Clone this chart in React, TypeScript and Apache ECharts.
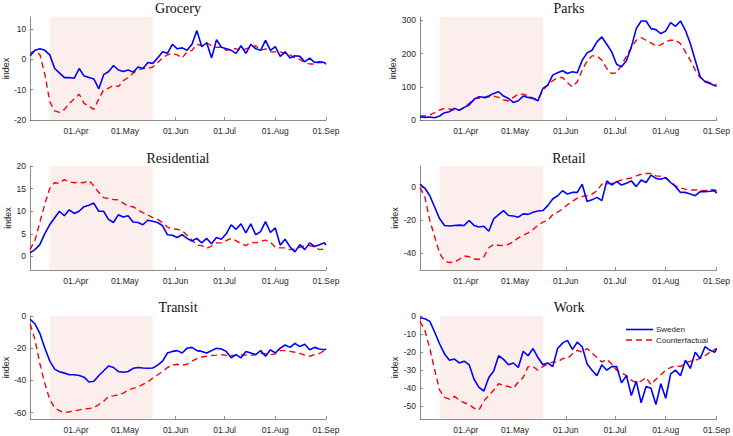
import React, { useEffect, useRef } from "react";
import * as echarts from "echarts";

// Day offsets from 04.Mar.2020
const days = [0, 3, 6, 9, 12, 15, 18, 21, 24, 27, 30, 33, 36, 39, 42, 45, 48, 51, 54, 57, 60, 63, 66, 69, 72, 75, 78, 81, 84, 87, 90, 93, 96, 99, 102, 105, 108, 111, 114, 117, 120, 123, 126, 129, 132, 135, 138, 141, 144, 147, 150, 153, 156, 159, 162, 165, 168, 171, 174, 177, 180, 181];

const monthTicks = [28, 58, 89, 119, 150, 181];
const monthLabels = ["01.Apr", "01.May", "01.Jun", "01.Jul", "01.Aug", "01.Sep"];

const shadeStart = 12;
const shadeEnd = 75;

const groceryBlue = [1.2, 3.0, 3.5, 3.0, 1.5, -3.0, -4.5, -6.0, -6.0, -6.2, -3.0, -5.5, -6.0, -6.5, -9.7, -5.0, -4.0, -2.0, -3.5, -4.0, -3.5, -4.2, -2.5, -3.0, -1.0, -1.3, 0.5, 2.5, 2.0, 5.0, 3.5, 3.8, 3.0, 5.0, 9.5, 4.2, 5.5, 0.5, 6.5, 4.0, 3.5, 3.0, 2.0, 4.5, 2.0, 5.0, 3.5, 3.0, 6.3, 3.0, 4.2, 1.0, 2.5, 0.5, 1.2, 1.0, -0.8, 0.4, -1.0, -0.8, -1.0, -1.6];
const groceryRed = [2, 3, 1.5, -5, -14, -17, -17.5, -16.5, -14.5, -13, -11.5, -14.5, -15.5, -16.5, -13, -10, -9.5, -8.5, -9, -7, -6, -4.5, -3.5, -3, -3, -2.5, -1, 0.5, 1.5, 2, 1.5, 0.5, 2.5, 3, 5, 4.5, 5.5, 4.5, 4, 4, 3, 3.5, 3.5, 3, 3.5, 4, 4.5, 3, 3.5, 2.5, 2.5, 2.5, 2, 1.5, 0.5, 0, -1, -1.5, -1.5, -1, -1, -1.5];

const parksBlue = [10, 8, 9, 7, 12, 22, 25, 35, 29, 38, 45, 62, 70, 68, 72, 80, 85, 72, 65, 53, 58, 72, 68, 65, 58, 95, 105, 135, 142, 148, 140, 145, 142, 180, 202, 210, 235, 250, 228, 205, 168, 160, 178, 220, 275, 298, 298, 275, 272, 260, 268, 293, 282, 298, 270, 230, 180, 130, 115, 110, 103, 102];
const parksRed = [12, 12, 15, 22, 30, 35, 33, 30, 30, 38, 50, 65, 65, 66, 70, 72, 68, 60, 58, 68, 78, 78, 72, 66, 62, 90, 105, 118, 128, 128, 112, 100, 115, 150, 178, 193, 193, 180, 155, 140, 142, 165, 192, 218, 240, 248, 240, 232, 222, 226, 236, 240, 240, 230, 205, 180, 150, 128, 118, 112, 107, 106];

const residentialBlue = [0.8, 1.5, 2.6, 5, 7, 8.5, 10, 9, 10.3, 9.5, 10, 11, 11.3, 11.8, 10, 10, 8.2, 7.5, 9.2, 8.7, 9, 7.6, 7.5, 7, 8, 7.8, 7.5, 6.8, 4.8, 4.7, 4.2, 4.8, 4, 3.4, 4, 3, 4, 2.8, 4.2, 3.8, 5, 7, 6, 7.2, 5.2, 7.2, 4.8, 5.5, 7.7, 5.3, 6.3, 2.5, 3.8, 2.1, 1, 2.6, 1.5, 3, 2.2, 2.6, 3, 2.5];
const residentialRed = [1.5, 3.5, 7.5, 11.5, 15, 16.3, 16.2, 17, 16.5, 16.3, 16.4, 16.3, 16.8, 15.6, 14.2, 13, 12.8, 12.6, 12.5, 11.8, 11.1, 11, 10.3, 9.7, 9.2, 8.6, 8.2, 7.5, 6.5, 6.1, 6, 5.7, 4.7, 3.6, 2.5, 2.4, 1.8, 2.3, 3, 3, 3.5, 4, 3.5, 2.8, 2.4, 3.1, 3, 3.3, 3.6, 3.2, 2, 1.9, 1.9, 1.5, 1.6, 2, 2.4, 2.4, 2.1, 1.5, 1.6, 1.5];

const retailBlue = [2, -0.5, -5, -12, -19, -23, -23.3, -23, -22.8, -23, -20, -23, -24, -23.5, -26.5, -19, -16.5, -14, -17, -17.3, -18, -16, -16.3, -15, -14.3, -14, -11, -7, -5, -2, -4, -3, -3, 2, -8.5, -7.5, -6, -8, 4, 1.5, 3.5, 1.5, 2.5, 4, 0.5, 4.5, 3, 7.5, 5.5, 5, 6, 3, 0.5, -3, -3, -4, -5, -2.5, -2.5, -2.3, -2, -3.5];
const retailRed = [0, -6, -20, -30, -40, -44.5, -45.5, -45.2, -43.5, -41.5, -42, -43.3, -43.5, -42, -36.5, -34.5, -35, -35.2, -34.5, -33, -30.5, -29, -27.5, -25.5, -23, -21, -20, -16.5, -15, -13, -10.5, -8.5, -6.5, -5.5, -5, -4, -2, 2, 2.2, 2.5, 3.5, 4.5, 5.2, 5.7, 7, 8, 8.5, 8.5, 7, 6.8, 5.5, 3.5, 1, -0.3, -1, -1.5, -1.5, -1.7, -2, -1.2, -1.5, -2];

const transitBlue = [-2, -5, -11, -20, -28, -33, -34.7, -35.5, -36.5, -36.5, -37, -38, -41, -40.5, -37, -34, -31, -32, -34.5, -35, -34.5, -32.5, -32, -32.3, -32.5, -32.3, -30.5, -28, -23, -22, -21.5, -23, -20, -19.5, -21.5, -22, -23, -21.5, -20, -20.5, -22, -26, -24, -26, -22, -23, -24, -21.5, -25, -21, -23, -20, -18, -19.5, -17, -19, -17.5, -21, -19.5, -20.5, -21, -20.5];
const transitRed = [-5, -15, -30, -42, -52, -57, -59, -60, -59.5, -59, -58.3, -57.8, -57.5, -57, -55, -53, -50, -49.6, -49, -48, -46, -45, -44, -42.5, -41, -38.5, -36.5, -34.5, -32, -30.5, -30, -30.5, -30, -28, -26.5, -25.5, -25, -24.5, -24.3, -24, -24.5, -24.5, -24.3, -24, -24.3, -24.5, -24, -23.2, -23.5, -24, -23.5, -21.5, -21.5, -22, -22.5, -23.2, -24.3, -25, -24, -23.3, -21.5, -21];

const workBlue = [-1, -1.5, -3, -9, -15.5, -21, -24.5, -23.8, -26, -25, -27, -35, -39.5, -41.5, -34, -30.5, -22, -24, -27, -26, -28.5, -19.5, -22, -18, -23, -27, -26, -28, -18, -15, -13.5, -18.5, -14.5, -17, -26.5, -30, -33, -27, -30, -28, -28, -37, -33, -44, -36, -48, -39, -40, -49, -37.5, -45.5, -32, -30, -33, -24.5, -29, -20, -23.5, -17, -19, -20, -18];
const workRed = [-3, -8, -18, -30, -41, -45, -46, -44.5, -46.5, -48, -49, -51, -52, -47, -44, -41, -37.5, -38.5, -39, -40, -36.5, -34, -28, -28, -30, -28, -26.5, -25.5, -25.5, -23.5, -23.5, -21, -19, -20, -18, -20.5, -23, -25.5, -24, -26.5, -30, -31.5, -33, -35.5, -37, -36, -34, -38, -35, -32.5, -30, -28.5, -27.5, -28, -26, -25, -24.5, -23.5, -22, -20, -18.5, -18];

const panelNames = ["Grocery", "Parks", "Residential", "Retail", "Transit", "Work"];
const blueSeries = [groceryBlue, parksBlue, residentialBlue, retailBlue, transitBlue, workBlue];
const redSeries = [groceryRed, parksRed, residentialRed, retailRed, transitRed, workRed];
const yMins = [-20, 0, -3, -50, -64, -57];
const yMaxs = [14, 310, 20, 13, 0, 0];
const yTicks = [
  [-20, -10, 0, 10],
  [0, 100, 200, 300],
  [0, 5, 10, 15, 20],
  [-40, -20, 0],
  [-60, -40, -20, 0],
  [-50, -40, -30, -20, -10, 0],
];
const legendNames = ["Sweden", "Counterfactual"];

const AXIS_LINE = "#6e6e6e";
const TEXT = "#262626";
const SANS = "Liberation Sans";
const BLUE = "#0000ff";
const RED = "#ff0000";
const RED_DASH = [6, 4];

export default function App() {
  const ref = useRef<HTMLDivElement>(null);
  useEffect(() => {
    document.body.style.margin = "0";
    if (!ref.current) return;
    const chart = echarts.init(ref.current, undefined, { renderer: "svg" });

    const lefts = [30, 420];
    const widths = [296, 298];
    const tops = [17, 166, 316];
    const heights = [103, 104, 103];

    const grids: any[] = [];
    const xAxes: any[] = [];
    const yAxes: any[] = [];
    const series: any[] = [];
    const graphics: any[] = [];
    const titleYs = [8.5, 158, 307];

    panelNames.forEach((name, i) => {
      const col = i % 2;
      const row = Math.floor(i / 2);
      grids.push({ left: lefts[col], top: tops[row], width: widths[col], height: heights[row], containLabel: false });
      xAxes.push({
        type: "value",
        gridIndex: i,
        min: 0,
        max: 181,
        axisLine: { show: true, onZero: false, lineStyle: { color: AXIS_LINE, width: 0.8 } },
        axisTick: { show: true, inside: true, length: 3, customValues: monthTicks, lineStyle: { color: AXIS_LINE, width: 0.8 } },
        axisLabel: {
          customValues: monthTicks,
          formatter: (v: number) => monthLabels[monthTicks.indexOf(v)] ?? "",
          fontSize: 8.5,
          fontFamily: SANS,
          color: TEXT,
          margin: 6,
        },
        splitLine: { show: false },
      });
      yAxes.push({
        type: "value",
        gridIndex: i,
        min: yMins[i],
        max: yMaxs[i],
        name: "index",
        nameLocation: "middle",
        nameGap: col === 0 ? 18 : 20,
        nameRotate: 90,
        nameTextStyle: { fontSize: 9, fontFamily: SANS, color: TEXT },
        axisLine: { show: true, onZero: false, lineStyle: { color: AXIS_LINE, width: 0.8 } },
        axisTick: { show: true, inside: true, length: 3, customValues: yTicks[i], lineStyle: { color: AXIS_LINE, width: 0.8 } },
        axisLabel: { customValues: yTicks[i], fontSize: 8.5, fontFamily: SANS, color: TEXT, margin: 4 },
        splitLine: { show: false },
      });
      series.push({
        name: legendNames[0],
        type: "line",
        xAxisIndex: i,
        yAxisIndex: i,
        symbol: "none",
        z: 3,
        lineStyle: { color: BLUE, width: 1.6 },
        itemStyle: { color: BLUE },
        data: days.map((d, k) => [d, blueSeries[i][k]]),
        markArea: {
          silent: true,
          itemStyle: { color: "#fdeeee" },
          data: [[{ xAxis: shadeStart }, { xAxis: shadeEnd }]],
        },
      });
      series.push({
        name: legendNames[1],
        type: "line",
        xAxisIndex: i,
        yAxisIndex: i,
        symbol: "none",
        z: 2,
        lineStyle: { color: RED, width: 1.4, type: RED_DASH },
        itemStyle: { color: RED },
        data: days.map((d, k) => [d, redSeries[i][k]]),
      });
      graphics.push({
        type: "text",
        x: lefts[col] + widths[col] / 2,
        y: titleYs[row],
        style: {
          text: name,
          fill: "#111",
          fontSize: 14,
          fontFamily: "Liberation Serif",
          align: "center",
          verticalAlign: "middle",
        },
      });
    });

    // Legend (drawn manually inside the Work panel)
    const legX = 626;
    const legYs = [329.5, 340];
    graphics.push(
      { type: "line", shape: { x1: legX, y1: legYs[0], x2: legX + 27, y2: legYs[0] }, style: { stroke: BLUE, lineWidth: 1.6 }, z: 10 },
      { type: "line", shape: { x1: legX, y1: legYs[1], x2: legX + 27, y2: legYs[1] }, style: { stroke: RED, lineWidth: 1.4, lineDash: RED_DASH }, z: 10 },
      { type: "text", x: legX + 30, y: legYs[0], style: { text: legendNames[0], fontSize: 8, fontFamily: SANS, fill: TEXT, align: "left", verticalAlign: "middle" }, z: 10 },
      { type: "text", x: legX + 30, y: legYs[1], style: { text: legendNames[1], fontSize: 8, fontFamily: SANS, fill: TEXT, align: "left", verticalAlign: "middle" }, z: 10 }
    );

    chart.setOption({
      animation: false,
      backgroundColor: "#ffffff",
      textStyle: { fontFamily: SANS },
      grid: grids,
      xAxis: xAxes,
      yAxis: yAxes,
      series,
      graphic: graphics,
    });
    return () => chart.dispose();
  }, []);
  return <div ref={ref} style={{ width: 733, height: 436 }} />;
}
